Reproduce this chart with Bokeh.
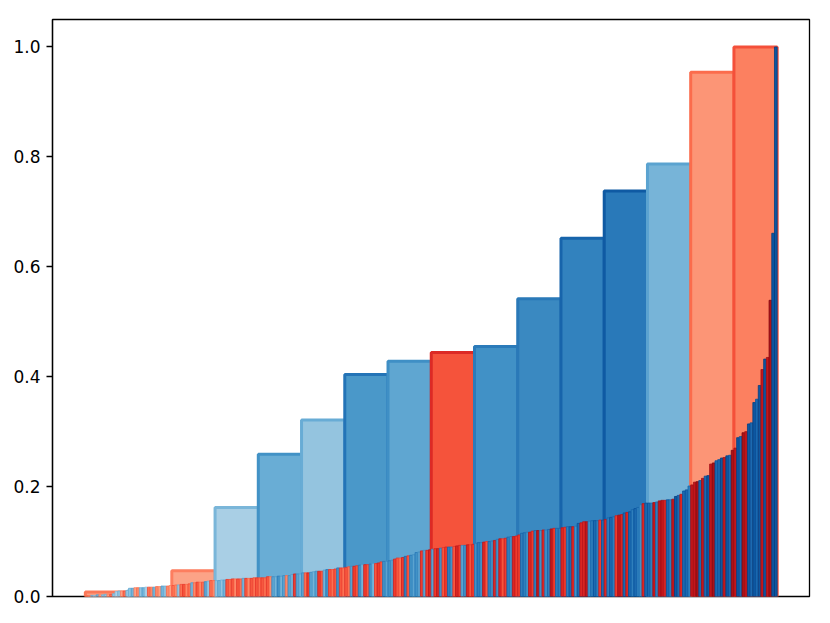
from bokeh.plotting import figure
from bokeh.models import Range1d, FixedTicker, PrintfTickFormatter, ColumnDataSource
from bokeh.embed import file_html
from bokeh.resources import INLINE
from bokeh.palettes import Blues256, Reds256

# ---- data -------------------------------------------------------------
thin_heights = (
    [0.001, 0.001, 0.002, 0.002, 0.003, 0.003, 0.003, 0.004, 0.004, 0.004, 0.005]
    + [0.009, 0.010, 0.010, 0.010, 0.011]
    + [0.015, 0.015, 0.016, 0.016, 0.016, 0.016, 0.017, 0.017, 0.017, 0.017, 0.018, 0.018]
    + [0.019, 0.019, 0.019, 0.020, 0.020, 0.021, 0.021]
    + [0.022, 0.022, 0.022, 0.023]
    + [0.025, 0.025]
    + [0.026, 0.026, 0.026, 0.027]
    + [0.028, 0.029, 0.029, 0.029, 0.029, 0.030, 0.030]
    + [0.031, 0.031, 0.032, 0.032, 0.032, 0.032]
    + [0.033, 0.033, 0.033, 0.033, 0.034, 0.034, 0.034, 0.034, 0.034]
    + [0.036, 0.036, 0.036, 0.036, 0.037, 0.037]
    + [0.038, 0.038, 0.038]
    + [0.040, 0.041, 0.041, 0.041]
    + [0.043, 0.043, 0.043, 0.044]
    + [0.045, 0.046, 0.046, 0.046]
    + [0.048, 0.049, 0.049, 0.049, 0.050]
    + [0.052, 0.052, 0.052, 0.053, 0.054]
    + [0.055, 0.055, 0.056]
    + [0.057, 0.058, 0.058, 0.058, 0.059]
    + [0.060, 0.060, 0.061]
    + [0.063, 0.064, 0.064, 0.065, 0.066]
    + [0.068, 0.070, 0.070, 0.071]
    + [0.073, 0.074, 0.075, 0.076]
    + [0.080, 0.081]
    + [0.083, 0.084, 0.084, 0.085]
    + [0.086, 0.087, 0.087, 0.088]
    + [0.089, 0.090, 0.090, 0.090, 0.091]
    + [0.092, 0.093, 0.093, 0.093, 0.094, 0.094, 0.095]
    + [0.097, 0.098, 0.098, 0.099]
    + [0.100, 0.100, 0.101, 0.102]
    + [0.104, 0.105, 0.105, 0.106]
    + [0.108, 0.109, 0.109, 0.110, 0.112]
    + [0.115, 0.116, 0.117, 0.117]
    + [0.119, 0.120, 0.120, 0.120, 0.121, 0.121, 0.122]
    + [0.123, 0.124, 0.124, 0.124, 0.125]
    + [0.126, 0.127, 0.127, 0.127, 0.128]
    + [0.133, 0.134]
    + [0.136, 0.136, 0.137]
    + [0.138, 0.138, 0.138, 0.139, 0.139]
    + [0.140]
    + [0.143, 0.144, 0.145]
    + [0.147, 0.148, 0.149]
    + [0.152, 0.153, 0.154]
    + [0.158, 0.160, 0.162]
    + [0.167]
    + [0.169, 0.170, 0.170, 0.170, 0.171, 0.172]
    + [0.174, 0.175, 0.175, 0.176, 0.176, 0.177]
    + [0.182, 0.184, 0.186]
    + [0.192, 0.194]
    + [0.201, 0.203]
    + [0.208, 0.209, 0.211]
    + [0.215]
    + [0.219, 0.220]
    + [0.241, 0.243]
    + [0.247, 0.249]
    + [0.252, 0.253]
    + [0.256, 0.257]
    + [0.266]
    + [0.270]
    + [0.289, 0.291]
    + [0.298, 0.300]
    + [0.314, 0.316]
    + [0.353, 0.359, 0.384, 0.413, 0.432, 0.435, 0.539, 0.661, 1.000]
)

# r = red family, b = blue family (one char per thin bar, 16 per block)
thin_groups = "".join([
    "rrbbbrbbrrbbbrrb",
    "bbrrbbbrrbrrbbrr",
    "rrbrrrrbrrrrbbrr",
    "bbbbrrrrrrbrrrrr",
    "rrrrrbbbbbrbbrbb",
    "brrbbbrrbbrrrbrr",
    "rrbrrbbrrbbrrrbb",
    "bbrrrrbrbbbbrbrr",
    "brrbrrbbrrrbbrrr",
    "bbbrrbbrbrrrbbrr",
    "rbbbrrbrbrbbrrbb",
    "rrbbrbbrrrbbbbrb",
    "rbbbrrrbrbbbbbrb",
    "bbrbrrrbbrbbrbbb",
    "rrrbrbbrrbbbrbbr",
    "rbbrrbbbbbrbrrbb",
])

# shade level 0 (light) .. 9 (dark), one digit per thin bar
thin_shades = "".join([
    "2121312213212132",
    "2312231323213221",
    "3223423324234232",
    "2323434243342434",
    "3434243534243543",
    "4354345435434543",
    "4345453545345454",
    "5454356454545456",
    "4565456546545645",
    "5656465656456565",
    "5665656756567566",
    "6567657667567657",
    "6676576767676567",
    "7676776767876776",
    "7787778787787878",
    "7878787878787888",
])

wide_heights = [0.008, 0.012, 0.047, 0.162, 0.259, 0.321, 0.404, 0.428,
                0.444, 0.455, 0.542, 0.652, 0.738, 0.787, 0.954, 1.000]
wide_block = 16

y_ticks = [0.0, 0.2, 0.4, 0.6, 0.8, 1.0]

# ---- styles -----------------------------------------------------------
wide_fill = ['#fc9e80', '#a6cee4', '#fca387', '#a9cfe5', '#69add5', '#94c4df',
             '#4a98c9', '#5fa6d1', '#f5533b', '#4191c6', '#3a89c1', '#3282be',
             '#2979b9', '#77b4d8', '#fc9576', '#fc8060']
wide_edge = ['#fb7858', '#82bbdb', '#fd7e5f', '#7ab6d9', '#4292c6', '#68acd5',
             '#2474b7', '#3f8fc5', '#dc2a25', '#2b7bba', '#2a79b8', '#1764ab',
             '#0f5aa3', '#5ba3d0', '#fb6c4c', '#f4503a']


def cmap(group, t):
    t = max(0.0, min(1.0, t))
    pal = Reds256 if group == "r" else Blues256
    return pal[255 - int(round(t * 255))]


n = len(thin_heights)
thin_x = list(range(n))
thin_fill = []
thin_line = []
for i in range(n):
    g = thin_groups[i % len(thin_groups)]
    d = int(thin_shades[i % len(thin_shades)])
    t = 0.25 + 0.075 * d
    thin_fill.append(cmap(g, t))
    thin_line.append(cmap(g, t + 0.1))

wide_x = [k * wide_block + (wide_block - 1) / 2 for k in range(len(wide_heights))]

# ---- figure -----------------------------------------------------------
p = figure(width=822, height=615, output_backend="svg", toolbar_location=None,
           title=None,
           x_range=Range1d(-12.65, n - 0.5 + 11.96), y_range=Range1d(0, 1.05),
           min_border_left=52, min_border_right=13, min_border_top=19,
           min_border_bottom=19)

wide_src = ColumnDataSource(dict(x=wide_x, top=wide_heights, fill=wide_fill, edge=wide_edge))
p.vbar(x="x", top="top", bottom=0, width=wide_block, source=wide_src,
       fill_color="fill", line_color="edge", line_width=3)

thin_src = ColumnDataSource(dict(x=thin_x, top=thin_heights, fill=thin_fill, edge=thin_line))
p.vbar(x="x", top="top", bottom=0, width=1, source=thin_src,
       fill_color="fill", line_color="edge", line_width=0.8)

p.xgrid.visible = False
p.ygrid.visible = False
p.xaxis.visible = False

p.outline_line_color = "black"
p.outline_line_width = 1.3
p.outline_line_alpha = 1.0

ya = p.yaxis[0]
ya.ticker = FixedTicker(ticks=y_ticks)
ya.formatter = PrintfTickFormatter(format="%.1f")
ya.axis_line_color = "black"
ya.axis_line_width = 1.3
ya.major_tick_out = 6
ya.major_tick_in = 0
ya.major_tick_line_width = 1.3
ya.major_tick_line_color = "black"
ya.minor_tick_line_color = None
ya.major_label_text_font = "DejaVu Sans"
ya.major_label_text_font_size = "17px"
ya.major_label_text_color = "black"
ya.major_label_standoff = 6

p.background_fill_color = "white"
p.border_fill_color = "white"

open("out.html", "w").write(file_html(p, INLINE))
